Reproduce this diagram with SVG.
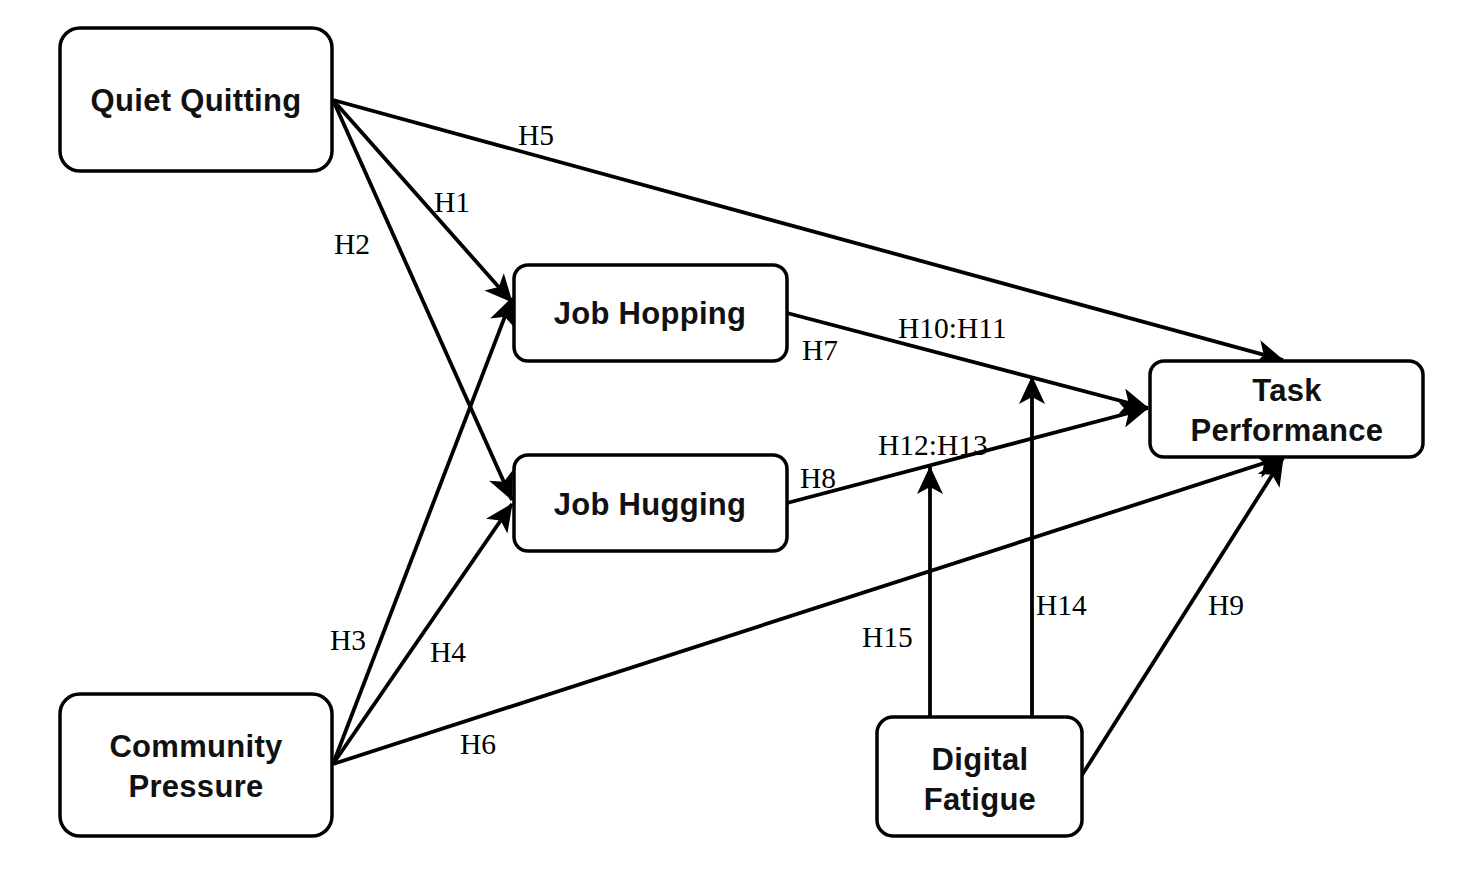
<svg xmlns="http://www.w3.org/2000/svg" width="1480" height="874" viewBox="0 0 1480 874">
<style>
.box{fill:#fff;stroke:#000;stroke-width:3.5}
.nl{font-family:"Liberation Sans",Arial,sans-serif;font-weight:bold;font-size:31px;text-anchor:middle;fill:#111;letter-spacing:0.3px}
.el{font-family:"Liberation Serif","Times New Roman",serif;font-size:29.5px;fill:#000}
.c{stroke:#000;stroke-width:3.8;fill:none;marker-end:url(#ah)}
</style>
<defs>
<marker id="ah" markerUnits="userSpaceOnUse" markerWidth="30" markerHeight="26" refX="27" refY="13" orient="auto">
<path d="M0,0 L28,13 L0,26 L7,13 z" fill="#000"/>
</marker>
</defs>
<rect width="1480" height="874" fill="#fff"/>
<g id="connectors">
<line class="c" x1="333" y1="100" x2="1283" y2="360"/>
<line class="c" x1="333" y1="100" x2="512" y2="302"/>
<line class="c" x1="333" y1="100" x2="512" y2="500"/>
<line class="c" x1="333" y1="764" x2="512" y2="298"/>
<line class="c" x1="333" y1="764" x2="512" y2="504"/>
<line class="c" x1="333" y1="764" x2="1283" y2="457"/>
<line class="c" x1="787" y1="313" x2="1148" y2="408"/>
<line class="c" x1="787" y1="503" x2="1148" y2="408"/>
<line class="c" x1="1082" y1="775" x2="1283" y2="458"/>
<line class="c" x1="1032" y1="717" x2="1032" y2="377"/>
<line class="c" x1="930" y1="717" x2="930" y2="467"/>
<text class="el" x="518" y="145">H5</text>
<text class="el" x="434" y="212">H1</text>
<text class="el" x="334" y="254">H2</text>
<text class="el" x="330" y="650">H3</text>
<text class="el" x="430" y="662">H4</text>
<text class="el" x="460" y="754">H6</text>
<text class="el" x="802" y="360">H7</text>
<text class="el" x="800" y="488">H8</text>
<text class="el" x="898" y="338">H10:H11</text>
<text class="el" x="878" y="455">H12:H13</text>
<text class="el" x="862" y="647">H15</text>
<text class="el" x="1036" y="615">H14</text>
<text class="el" x="1208" y="615">H9</text>
</g>
<g id="quiet-quitting">
<rect class="box" x="60" y="28" width="272" height="143" rx="20"/>
<text class="nl" x="196" y="111">Quiet Quitting</text>
</g>
<g id="community-pressure">
<rect class="box" x="60" y="694" width="272" height="142" rx="20"/>
<text class="nl" x="196" y="757">Community</text>
<text class="nl" x="196" y="797">Pressure</text>
</g>
<g id="job-hopping">
<rect class="box" x="514" y="265" width="273" height="96" rx="14"/>
<text class="nl" x="650" y="324">Job Hopping</text>
</g>
<g id="job-hugging">
<rect class="box" x="514" y="455" width="273" height="96" rx="14"/>
<text class="nl" x="650" y="515">Job Hugging</text>
</g>
<g id="task-performance">
<rect class="box" x="1150" y="361" width="273" height="96" rx="14"/>
<text class="nl" x="1287" y="401">Task</text>
<text class="nl" x="1287" y="441">Performance</text>
</g>
<g id="digital-fatigue">
<rect class="box" x="877" y="717" width="205" height="119" rx="16"/>
<text class="nl" x="980" y="770">Digital</text>
<text class="nl" x="980" y="810">Fatigue</text>
</g>
</svg>
